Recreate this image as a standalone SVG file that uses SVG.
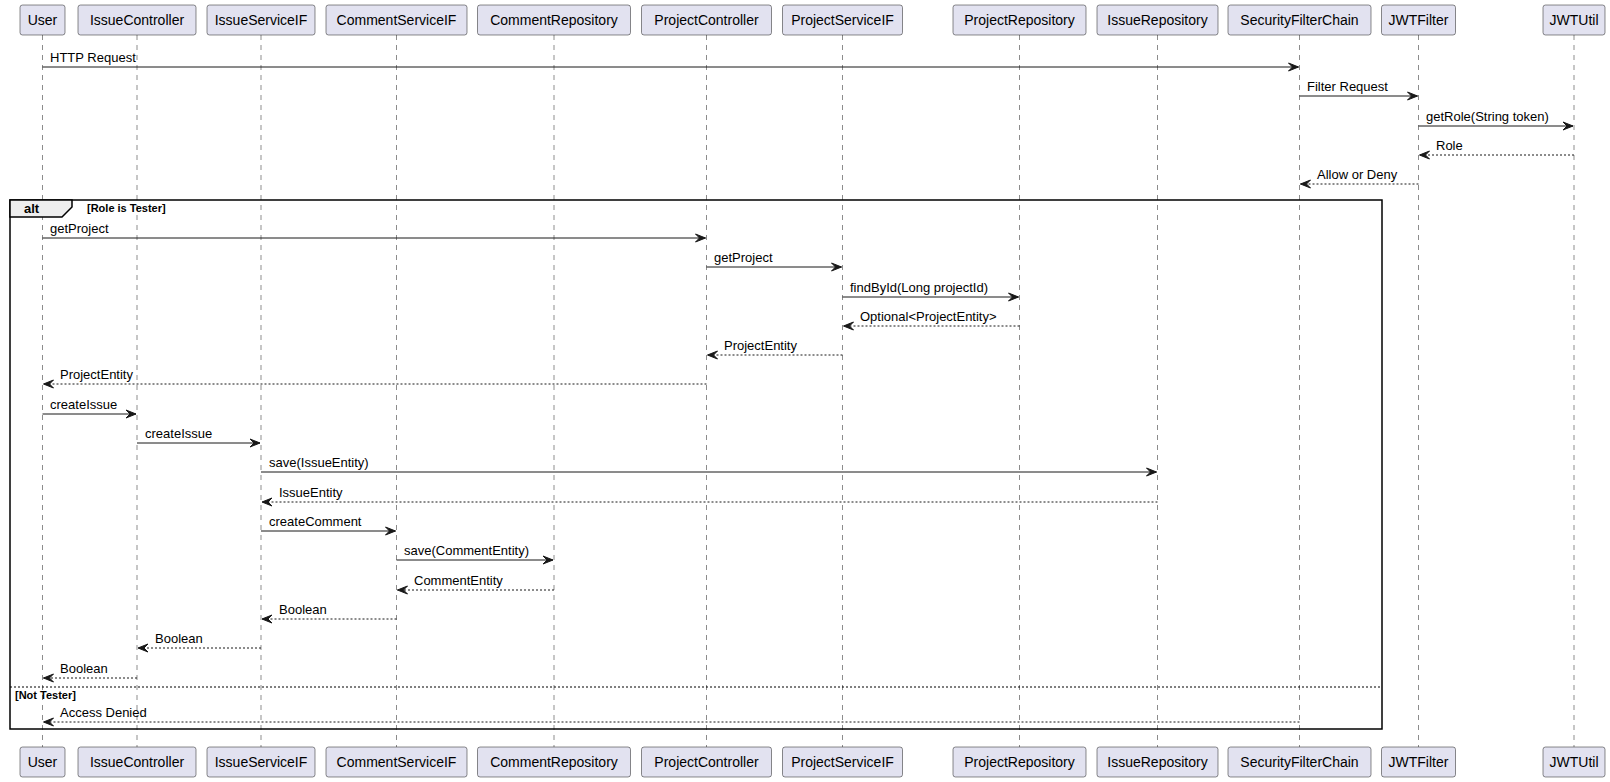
<svg xmlns="http://www.w3.org/2000/svg" width="1610" height="782" viewBox="0 0 1610 782">
<style>
  .box { fill: #E2E2F0; stroke: #181818; stroke-width: 0.5; }
  .pt { font-family: "Liberation Sans", Arial, sans-serif; font-size: 14px; fill: #000; text-anchor: middle; }
  .life { stroke: #181818; stroke-width: 0.5; stroke-dasharray: 5,5; }
  .msg { stroke: #181818; stroke-width: 1; fill: none; marker-end: url(#arr); }
  .ret { stroke: #181818; stroke-width: 1; fill: none; stroke-dasharray: 2,2; marker-end: url(#arr); }
  .mt { font-family: "Liberation Sans", Arial, sans-serif; font-size: 13px; fill: #000; }
  .frame { fill: none; stroke: #000; stroke-width: 1.5; }
  .tab { fill: #EEEEEE; stroke: #000; stroke-width: 1.5; }
  .ft { font-family: "Liberation Sans", Arial, sans-serif; font-weight: bold; fill: #000; }
</style>
<defs>
  <marker id="arr" viewBox="-1 -1 12 10" refX="10" refY="4" markerWidth="12" markerHeight="10" markerUnits="userSpaceOnUse" orient="auto" overflow="visible">
    <path d="M0,0 L10,4 L0,8 L4,4 Z" fill="#181818" stroke="#181818" stroke-width="1" stroke-linejoin="miter" stroke-dasharray="none"/>
  </marker>
</defs>
<rect width="1610" height="782" fill="#FFFFFF"/>

<g id="lifelines">
  <line class="life" x1="42.5" y1="35" x2="42.5" y2="747"/>
  <line class="life" x1="137" y1="35" x2="137" y2="747"/>
  <line class="life" x1="261" y1="35" x2="261" y2="747"/>
  <line class="life" x1="396.5" y1="35" x2="396.5" y2="747"/>
  <line class="life" x1="554" y1="35" x2="554" y2="747"/>
  <line class="life" x1="706.5" y1="35" x2="706.5" y2="747"/>
  <line class="life" x1="842.5" y1="35" x2="842.5" y2="747"/>
  <line class="life" x1="1019.5" y1="35" x2="1019.5" y2="747"/>
  <line class="life" x1="1157.5" y1="35" x2="1157.5" y2="747"/>
  <line class="life" x1="1299.5" y1="35" x2="1299.5" y2="747"/>
  <line class="life" x1="1418.5" y1="35" x2="1418.5" y2="747"/>
  <line class="life" x1="1574" y1="35" x2="1574" y2="747"/>
</g>

<g id="alt-frame">
  <rect class="frame" x="10" y="200" width="1372" height="529"/>
  <path class="tab" d="M10,200 L72,200 L72,207 L62,217 L10,217 Z"/>
  <text class="ft" x="24" y="213" font-size="13">alt</text>
  <text class="ft" x="87" y="212" font-size="11">[Role is Tester]</text>
  <line x1="10" y1="687" x2="1382" y2="687" stroke="#000" stroke-width="1" stroke-dasharray="2,2"/>
  <text class="ft" x="15" y="699" font-size="11">[Not Tester]</text>
</g>

<g id="connectors">
  <line class="msg" x1="42.5" y1="67" x2="1298.5" y2="67"/>
  <text class="mt" x="50" y="62">HTTP Request</text>
  <line class="msg" x1="1299.5" y1="96" x2="1417.5" y2="96"/>
  <text class="mt" x="1307" y="91">Filter Request</text>
  <line class="msg" x1="1418.5" y1="126" x2="1573" y2="126"/>
  <text class="mt" x="1426" y="121">getRole(String token)</text>
  <line class="ret" x1="1574" y1="155" x2="1419.5" y2="155"/>
  <text class="mt" x="1436" y="150">Role</text>
  <line class="ret" x1="1418.5" y1="184" x2="1300.5" y2="184"/>
  <text class="mt" x="1317" y="179">Allow or Deny</text>

  <line class="msg" x1="42.5" y1="238" x2="705.5" y2="238"/>
  <text class="mt" x="50" y="233">getProject</text>
  <line class="msg" x1="706.5" y1="267" x2="841.5" y2="267"/>
  <text class="mt" x="714" y="262">getProject</text>
  <line class="msg" x1="842.5" y1="297" x2="1018.5" y2="297"/>
  <text class="mt" x="850" y="292">findById(Long projectId)</text>
  <line class="ret" x1="1019.5" y1="326" x2="843.5" y2="326"/>
  <text class="mt" x="860" y="321">Optional&lt;ProjectEntity&gt;</text>
  <line class="ret" x1="842.5" y1="355" x2="707.5" y2="355"/>
  <text class="mt" x="724" y="350">ProjectEntity</text>
  <line class="ret" x1="706.5" y1="384" x2="43.5" y2="384"/>
  <text class="mt" x="60" y="379">ProjectEntity</text>
  <line class="msg" x1="42.5" y1="414" x2="136" y2="414"/>
  <text class="mt" x="50" y="409">createIssue</text>
  <line class="msg" x1="137" y1="443" x2="260" y2="443"/>
  <text class="mt" x="145" y="438">createIssue</text>
  <line class="msg" x1="261" y1="472" x2="1156.5" y2="472"/>
  <text class="mt" x="269" y="467">save(IssueEntity)</text>
  <line class="ret" x1="1157.5" y1="502" x2="262" y2="502"/>
  <text class="mt" x="279" y="497">IssueEntity</text>
  <line class="msg" x1="261" y1="531" x2="395.5" y2="531"/>
  <text class="mt" x="269" y="526">createComment</text>
  <line class="msg" x1="396.5" y1="560" x2="553" y2="560"/>
  <text class="mt" x="404" y="555">save(CommentEntity)</text>
  <line class="ret" x1="554" y1="590" x2="397.5" y2="590"/>
  <text class="mt" x="414" y="585">CommentEntity</text>
  <line class="ret" x1="396.5" y1="619" x2="262" y2="619"/>
  <text class="mt" x="279" y="614">Boolean</text>
  <line class="ret" x1="261" y1="648" x2="138" y2="648"/>
  <text class="mt" x="155" y="643">Boolean</text>
  <line class="ret" x1="137" y1="678" x2="43.5" y2="678"/>
  <text class="mt" x="60" y="673">Boolean</text>
  <line class="ret" x1="1299.5" y1="722" x2="43.5" y2="722"/>
  <text class="mt" x="60" y="717">Access Denied</text>
</g>

<g id="User"><rect class="box" x="20" y="5" width="45" height="30" rx="2.5"/><text class="pt" x="42.5" y="25">User</text><rect class="box" x="20" y="747" width="45" height="30" rx="2.5"/><text class="pt" x="42.5" y="767">User</text></g>
<g id="IssueController"><rect class="box" x="78" y="5" width="118" height="30" rx="2.5"/><text class="pt" x="137" y="25">IssueController</text><rect class="box" x="78" y="747" width="118" height="30" rx="2.5"/><text class="pt" x="137" y="767">IssueController</text></g>
<g id="IssueServiceIF"><rect class="box" x="207" y="5" width="108" height="30" rx="2.5"/><text class="pt" x="261" y="25">IssueServiceIF</text><rect class="box" x="207" y="747" width="108" height="30" rx="2.5"/><text class="pt" x="261" y="767">IssueServiceIF</text></g>
<g id="CommentServiceIF"><rect class="box" x="326" y="5" width="141" height="30" rx="2.5"/><text class="pt" x="396.5" y="25">CommentServiceIF</text><rect class="box" x="326" y="747" width="141" height="30" rx="2.5"/><text class="pt" x="396.5" y="767">CommentServiceIF</text></g>
<g id="CommentRepository"><rect class="box" x="477.5" y="5" width="153" height="30" rx="2.5"/><text class="pt" x="554" y="25">CommentRepository</text><rect class="box" x="477.5" y="747" width="153" height="30" rx="2.5"/><text class="pt" x="554" y="767">CommentRepository</text></g>
<g id="ProjectController"><rect class="box" x="641.5" y="5" width="130" height="30" rx="2.5"/><text class="pt" x="706.5" y="25">ProjectController</text><rect class="box" x="641.5" y="747" width="130" height="30" rx="2.5"/><text class="pt" x="706.5" y="767">ProjectController</text></g>
<g id="ProjectServiceIF"><rect class="box" x="782.5" y="5" width="120" height="30" rx="2.5"/><text class="pt" x="842.5" y="25">ProjectServiceIF</text><rect class="box" x="782.5" y="747" width="120" height="30" rx="2.5"/><text class="pt" x="842.5" y="767">ProjectServiceIF</text></g>
<g id="ProjectRepository"><rect class="box" x="953" y="5" width="133" height="30" rx="2.5"/><text class="pt" x="1019.5" y="25">ProjectRepository</text><rect class="box" x="953" y="747" width="133" height="30" rx="2.5"/><text class="pt" x="1019.5" y="767">ProjectRepository</text></g>
<g id="IssueRepository"><rect class="box" x="1097" y="5" width="121" height="30" rx="2.5"/><text class="pt" x="1157.5" y="25">IssueRepository</text><rect class="box" x="1097" y="747" width="121" height="30" rx="2.5"/><text class="pt" x="1157.5" y="767">IssueRepository</text></g>
<g id="SecurityFilterChain"><rect class="box" x="1228" y="5" width="143" height="30" rx="2.5"/><text class="pt" x="1299.5" y="25">SecurityFilterChain</text><rect class="box" x="1228" y="747" width="143" height="30" rx="2.5"/><text class="pt" x="1299.5" y="767">SecurityFilterChain</text></g>
<g id="JWTFilter"><rect class="box" x="1381.5" y="5" width="74" height="30" rx="2.5"/><text class="pt" x="1418.5" y="25">JWTFilter</text><rect class="box" x="1381.5" y="747" width="74" height="30" rx="2.5"/><text class="pt" x="1418.5" y="767">JWTFilter</text></g>
<g id="JWTUtil"><rect class="box" x="1543" y="5" width="62" height="30" rx="2.5"/><text class="pt" x="1574" y="25">JWTUtil</text><rect class="box" x="1543" y="747" width="62" height="30" rx="2.5"/><text class="pt" x="1574" y="767">JWTUtil</text></g>
</svg>
